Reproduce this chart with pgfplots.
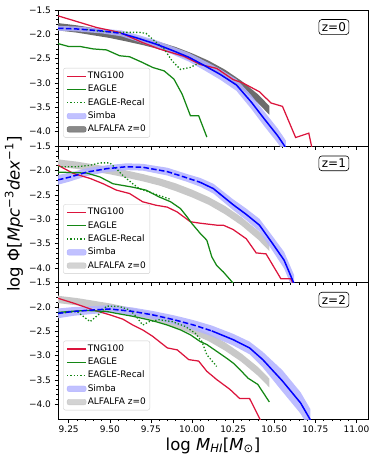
\documentclass[border=0pt]{standalone}
\usepackage{fontspec}
\setmainfont{DejaVu Sans}
\usepackage{pgfplots}
\pgfplotsset{compat=1.18}
\usepackage{pgfplotstable}
\usepgfplotslibrary{fillbetween}

\definecolor{tng}{RGB}{220,20,60}
\definecolor{eagle}{RGB}{20,135,20}
\definecolor{simba}{RGB}{0,0,255}
\definecolor{simbaband}{RGB}{178,178,255}
\definecolor{alfadark}{RGB}{108,108,108}
\definecolor{alfalight}{RGB}{200,200,200}

% ALFALFA (same in all panels): x, centre, half width
\pgfplotstableread{
x c w
9.185 -1.84 0.075
9.20 -1.85 0.075
9.30 -1.89 0.075
9.40 -1.945 0.075
9.50 -2.00 0.075
9.60 -2.07 0.075
9.70 -2.145 0.075
9.80 -2.23 0.075
9.90 -2.34 0.08
10.00 -2.47 0.08
10.10 -2.62 0.08
10.20 -2.81 0.085
10.30 -3.04 0.085
10.40 -3.32 0.09
10.47 -3.56 0.09
}\alfalfa

% Simba, panel z=0
\pgfplotstableread{
x c w
9.185 -1.875 0.05
9.30 -1.89 0.05
9.45 -1.93 0.05
9.57 -1.98 0.06
9.67 -2.08 0.07
9.78 -2.20 0.08
9.88 -2.33 0.08
9.98 -2.47 0.09
10.08 -2.65 0.10
10.17 -2.82 0.11
10.27 -3.04 0.12
10.36 -3.39 0.14
10.44 -3.74 0.15
10.52 -4.08 0.15
10.57 -4.33 0.15
}\simbaA

% Simba, panel z=1
\pgfplotstableread{
x c w
9.185 -2.19 0.10
9.26 -2.13 0.09
9.36 -2.03 0.08
9.48 -1.96 0.07
9.60 -1.92 0.07
9.70 -1.93 0.07
9.85 -2.02 0.08
9.97 -2.15 0.08
10.05 -2.24 0.09
10.13 -2.37 0.10
10.25 -2.70 0.11
10.33 -2.90 0.12
10.41 -3.12 0.13
10.49 -3.50 0.15
10.56 -3.84 0.17
10.62 -4.32 0.18
}\simbaB

% Simba, panel z=2
\pgfplotstableread{
x c w
9.185 -2.13 0.10
9.28 -2.09 0.09
9.40 -2.06 0.08
9.50 -2.04 0.08
9.64 -2.09 0.08
9.76 -2.16 0.08
9.89 -2.26 0.09
10.01 -2.37 0.10
10.12 -2.49 0.11
10.25 -2.67 0.12
10.35 -2.84 0.13
10.43 -3.08 0.16
10.55 -3.52 0.22
10.66 -3.97 0.22
10.72 -4.32 0.22
}\simbaC

\tikzset{
  tngline/.style={tng, line width=1.25pt},
  eagleline/.style={eagle, line width=1.25pt},
  recalline/.style={eagle, line width=1.3pt, dash pattern=on 1.3pt off 2pt},
  simbaline/.style={simba, line width=1.5pt},
  simbadash/.style={simba, line width=1.5pt, dash pattern=on 5.5pt off 2.4pt},
}

\pgfplotsset{
  panel/.style={
    width=310pt, height=136.3pt, scale only axis,
    anchor=north west,
    xmin=9.185, xmax=11.07, ymin=-4.3, ymax=-1.5,
    xtick={9.25,9.5,9.75,10,10.25,10.5,10.75,11},
    ytick={-4,-3.5,-3,-2.5,-2,-1.5},
    yticklabels={−4.0,−3.5,−3.0,−2.5,−2.0,−1.5},
    minor x tick num=4, minor y tick num=4,
    tick align=outside, tick pos=left,
    major tick length=3.5pt, minor tick length=2pt,
    every tick/.style={black, line width=0.6pt},
    tick label style={font=\fontsize{9}{10}\selectfont},
    axis line style={line width=0.6pt},
    clip=true,
    legend style={at={(0.017,0.064)}, anchor=south west,
      draw=black!20, rounded corners=2pt, fill=white, fill opacity=0.8, text opacity=1,
      font=\fontsize{9}{10.5}\selectfont, inner xsep=3pt, inner ysep=2.5pt, row sep=2.3pt,
      nodes={inner sep=1pt, text height=7pt, text depth=2pt},
      /tikz/every even column/.append style={column sep=4pt}},
    legend cell align=left,
  },
}

\newcommand{\legendentries}[1]{%
  \addlegendimage{legend image code/.code={\draw[tngline] (0pt,0pt) -- (19pt,0pt);}}\addlegendentry{TNG100}
  \addlegendimage{legend image code/.code={\draw[eagleline] (0pt,0pt) -- (19pt,0pt);}}\addlegendentry{EAGLE}
  \addlegendimage{legend image code/.code={\draw[recalline] (0pt,0pt) -- (19pt,0pt);}}\addlegendentry{EAGLE-Recal}
  \addlegendimage{legend image code/.code={\fill[simbaband] (0pt,-2.8pt) rectangle (19pt,2.8pt);}}\addlegendentry{Simba}
  \addlegendimage{legend image code/.code={\fill[#1] (0pt,-2.8pt) rectangle (19pt,2.8pt);}}\addlegendentry{ALFALFA z=0}
}

\newcommand{\bands}[2]{% alfalfa colour, simba table
  \addplot[name path=au, draw=none, forget plot] table[x=x, y expr=\thisrow{c}+\thisrow{w}] {\alfalfa};
  \addplot[name path=al, draw=none, forget plot] table[x=x, y expr=\thisrow{c}-\thisrow{w}] {\alfalfa};
  \addplot[#1, forget plot] fill between[of=au and al];
  \addplot[name path=su, draw=none, forget plot] table[x=x, y expr=\thisrow{c}+\thisrow{w}] {#2};
  \addplot[name path=sl, draw=none, forget plot] table[x=x, y expr=\thisrow{c}-\thisrow{w}] {#2};
  \addplot[simbaband, fill opacity=0.85, forget plot] fill between[of=su and sl];
}

\begin{document}
\begin{tikzpicture}

% ---------------- z = 0 ----------------
\begin{axis}[panel, at={(58pt,-10pt)}, xticklabels={}]
\legendentries{alfadark}
\bands{alfadark}{\simbaA}
\addplot[tngline, forget plot] coordinates {(9.185,-1.62) (9.42,-1.86) (9.56,-1.96) (9.70,-2.17) (9.80,-2.30) (9.95,-2.45) (10.05,-2.62) (10.15,-2.70) (10.25,-2.93) (10.31,-3.00) (10.41,-3.18) (10.48,-3.41) (10.55,-3.48) (10.63,-4.12) (10.71,-4.03) (10.73,-4.35)};
\addplot[eagleline, forget plot] coordinates {(9.185,-2.19) (9.25,-2.25) (9.32,-2.25) (9.40,-2.30) (9.48,-2.32) (9.56,-2.44) (9.62,-2.46) (9.70,-2.58) (9.76,-2.68) (9.83,-2.75) (9.89,-2.92) (9.94,-3.23) (9.99,-3.67) (10.04,-3.67) (10.09,-4.11)};
\addplot[recalline, forget plot] coordinates {(9.36,-1.90) (9.45,-1.94) (9.55,-1.96) (9.68,-1.96) (9.72,-1.98) (9.76,-2.10) (9.83,-2.30) (9.88,-2.55) (9.93,-2.72) (9.99,-2.68) (10.03,-2.61) (10.06,-2.60)};
\addplot[simbadash, forget plot, restrict x to domain=9:9.575] table[x=x, y=c] {\simbaA};
\addplot[simbaline, forget plot, restrict x to domain=9.565:11.5] table[x=x, y=c] {\simbaA};
\node[draw, rounded corners=3pt, fill=white, inner sep=3pt, font=\fontsize{12}{13}\selectfont, line width=0.6pt] at (rel axis cs:0.89,0.875) {z=0};
\end{axis}

% ---------------- z = 1 ----------------
\begin{axis}[panel, at={(58pt,-146.3pt)}, xticklabels={}]
\legendentries{alfalight}
\bands{alfalight}{\simbaB}
\addplot[tngline, forget plot] coordinates {(9.185,-1.89) (9.28,-2.06) (9.38,-2.16) (9.46,-2.27) (9.54,-2.40) (9.62,-2.47) (9.70,-2.64) (9.78,-2.71) (9.85,-2.75) (9.91,-2.85) (9.99,-3.05) (10.05,-3.08) (10.15,-3.12) (10.19,-3.12) (10.25,-3.21) (10.33,-3.40) (10.39,-3.69) (10.45,-3.71) (10.54,-4.22) (10.60,-4.22) (10.62,-4.35)};
\addplot[eagleline, forget plot] coordinates {(9.185,-2.03) (9.36,-2.05) (9.44,-2.13) (9.52,-2.27) (9.64,-2.34) (9.72,-2.40) (9.80,-2.54) (9.87,-2.64) (9.93,-2.78) (9.97,-2.95) (10.00,-3.09) (10.05,-3.29) (10.09,-3.43) (10.12,-3.77) (10.15,-3.95) (10.19,-4.08) (10.26,-4.35)};
\addplot[recalline, forget plot] coordinates {(9.185,-1.92) (9.30,-1.92) (9.38,-1.89) (9.44,-1.84) (9.50,-1.84) (9.54,-1.96) (9.58,-2.10) (9.64,-2.27) (9.68,-2.37) (9.74,-2.44) (9.80,-2.51) (9.87,-2.59)};
\addplot[simbadash, forget plot, restrict x to domain=9:10.055] table[x=x, y=c] {\simbaB};
\addplot[simbaline, forget plot, restrict x to domain=10.045:11.5] table[x=x, y=c] {\simbaB};
\node[draw, rounded corners=3pt, fill=white, inner sep=3pt, font=\fontsize{12}{13}\selectfont, line width=0.6pt] at (rel axis cs:0.89,0.875) {z=1};
\end{axis}

% ---------------- z = 2 ----------------
\begin{axis}[panel, at={(58pt,-282.7pt)},
  xticklabels={9.25,9.50,9.75,10.00,10.25,10.50,10.75,11.00}]
\legendentries{alfalight}
\bands{alfalight}{\simbaC}
\addplot[tngline, forget plot] coordinates {(9.185,-1.82) (9.28,-1.92) (9.40,-2.06) (9.50,-2.16) (9.58,-2.25) (9.64,-2.37) (9.70,-2.47) (9.76,-2.60) (9.85,-2.84) (9.91,-2.88) (9.98,-3.08) (10.04,-3.11) (10.09,-3.32) (10.15,-3.49) (10.23,-3.69) (10.29,-3.88) (10.35,-3.88) (10.42,-4.35)};
\addplot[eagleline, forget plot] coordinates {(9.185,-2.11) (9.26,-2.09) (9.36,-2.07) (9.48,-2.09) (9.54,-2.13) (9.64,-2.19) (9.72,-2.25) (9.78,-2.30) (9.85,-2.37) (9.93,-2.47) (9.99,-2.57) (10.05,-2.71) (10.09,-2.77) (10.15,-2.91) (10.21,-3.05) (10.25,-3.15) (10.29,-3.28) (10.34,-3.46) (10.40,-3.59) (10.47,-3.95)};
\addplot[recalline, forget plot] coordinates {(9.185,-2.13) (9.30,-2.09) (9.38,-2.30) (9.44,-2.13) (9.48,-1.98) (9.56,-1.99) (9.62,-2.06) (9.66,-2.19) (9.70,-2.37) (9.74,-2.30) (9.80,-2.26) (9.88,-2.30) (9.96,-2.40) (10.02,-2.54) (10.06,-2.71) (10.09,-2.98) (10.15,-3.22)};
\addplot[simbadash, forget plot, restrict x to domain=9:10.125] table[x=x, y=c] {\simbaC};
\addplot[simbaline, forget plot, restrict x to domain=10.115:11.5] table[x=x, y=c] {\simbaC};
\node[draw, rounded corners=3pt, fill=white, inner sep=3pt, font=\fontsize{12}{13}\selectfont, line width=0.6pt] at (rel axis cs:0.89,0.875) {z=2};
\end{axis}

\node[anchor=base, font=\fontsize{16.5}{18}\selectfont] at (213pt,-450pt) {log \textit{M}\textsubscript{\textit{HI}}[\textit{M}\textsubscript{⊙}]};
\node[rotate=90, font=\fontsize{16.5}{18}\selectfont] at (14pt,-214pt) {log Φ[\textit{Mpc}\textsuperscript{−3}\textit{dex}\textsuperscript{−1}]};
\pgfresetboundingbox
\path[use as bounding box] (0pt,0pt) rectangle (374pt,-462pt);
\end{tikzpicture}
\end{document}
